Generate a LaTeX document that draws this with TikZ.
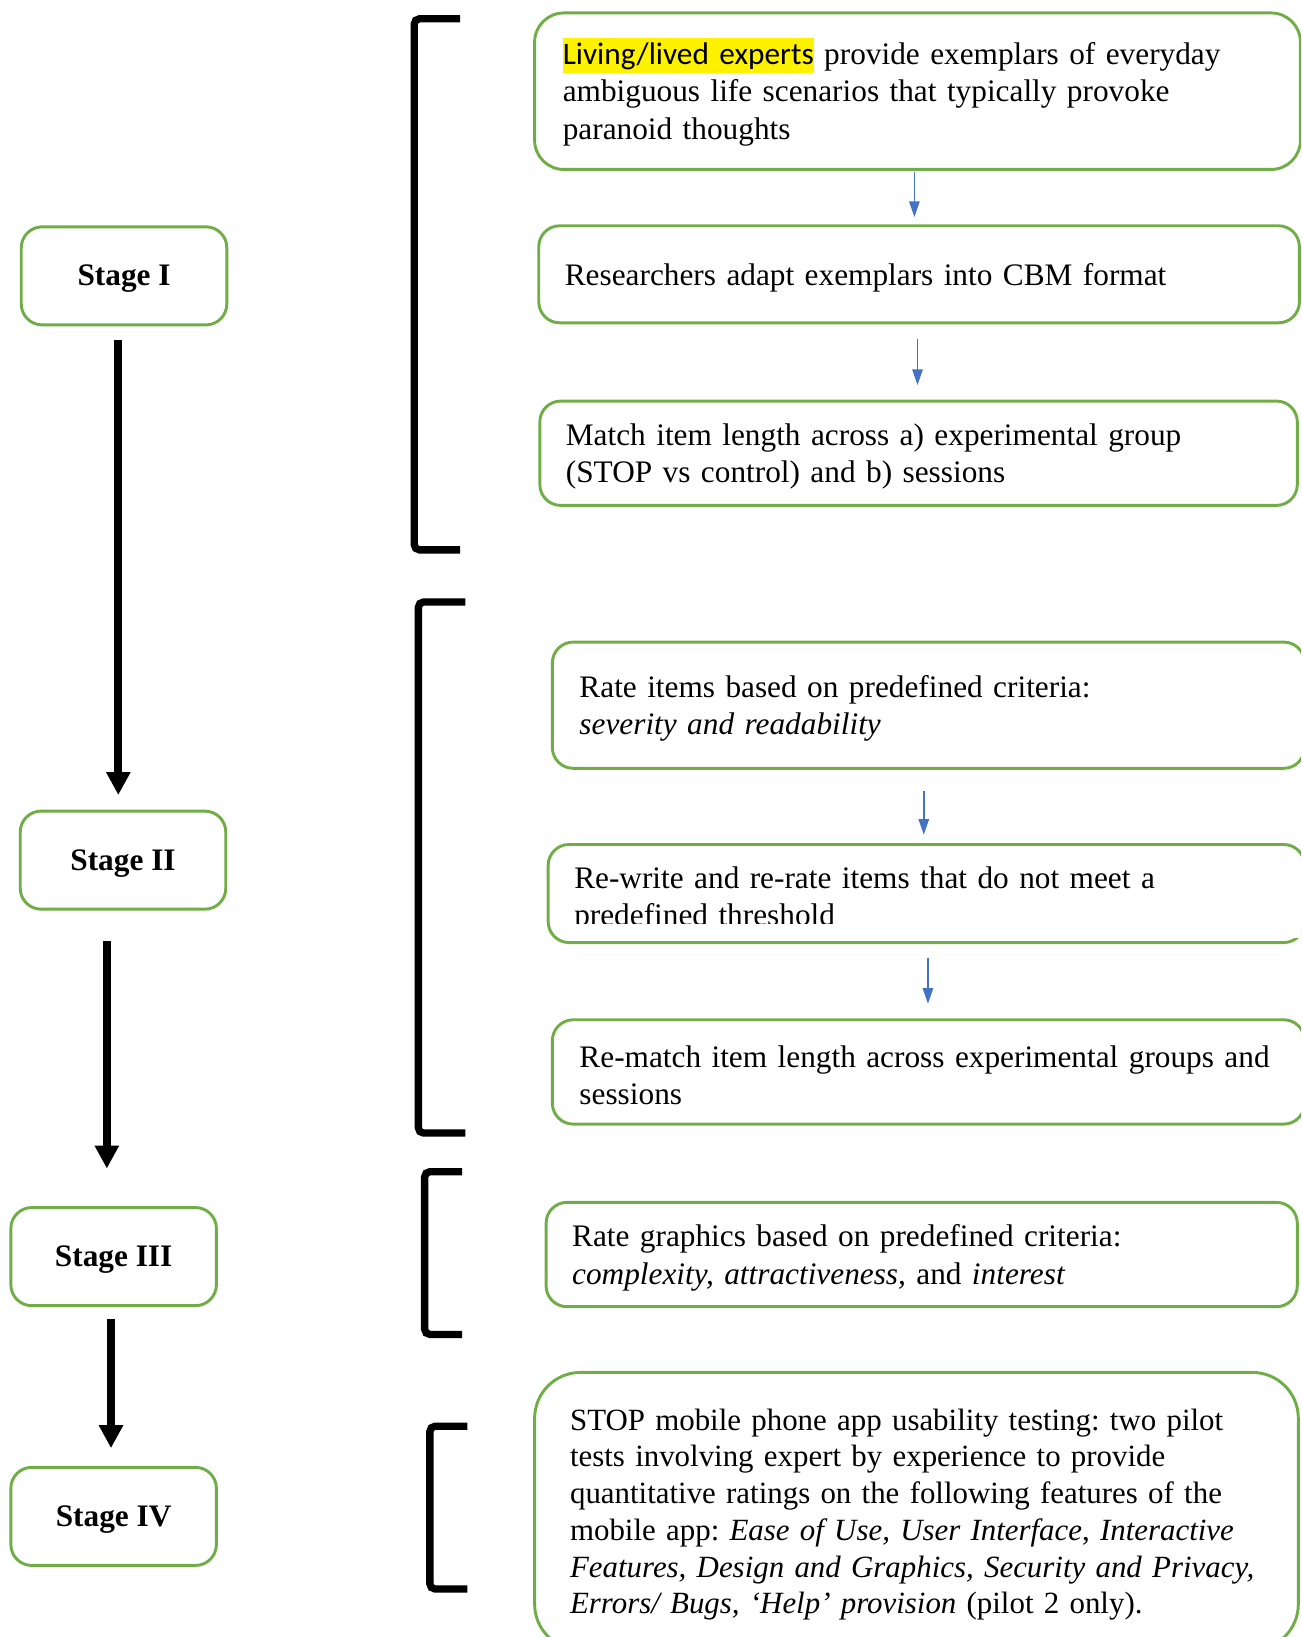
\documentclass[tikz,border=0pt]{standalone}
\usepackage{fontspec}
\setmainfont{Liberation Serif}
\newfontfamily\calibri{Carlito}
\usetikzlibrary{arrows.meta}
\definecolor{stagegreen}{HTML}{70AD47}
\definecolor{flowblue}{HTML}{4472C4}
\setlength{\fboxsep}{0pt}
\frenchspacing

\tikzset{
  stagebox/.style={draw=stagegreen, line width=1.4pt, rounded corners=10pt,
    anchor=north west, minimum width=98.5pt, minimum height=47pt,
    font=\fontsize{15}{18}\selectfont\bfseries, execute at begin node=\rule{0pt}{13pt}},
  stepbox/.style={draw=stagegreen, line width=1.4pt, rounded corners=10pt,
    anchor=north west, align=left, inner xsep=12.5pt,
    font=\fontsize{15}{18}\selectfont, execute at begin node=\rule{0pt}{13.5pt}},
  stagearrow/.style={line width=3.8pt, -{Triangle[width=11pt,length=11pt]}},
  steparrow/.style={flowblue, line width=0.7pt, -{Triangle[width=5pt,length=7.5pt]}},
  bracket/.style={line width=3.5pt, rounded corners=2.5pt},
}

\begin{document}
\begin{tikzpicture}[x=0.5pt, y=-0.5pt]
  \clip (0,0) rectangle (1247,1569);
  % the four stages on the left
  \foreach \n/\pos/\lab in {1/{(19,216)}/I, 2/{(18,776)}/II, 3/{(9,1156)}/III, 4/{(9,1405)}/IV}{
    \node[stagebox] (S-\n) at \pos {Stage \lab};
  }
  \foreach \a/\b/\dx/\s/\e in {1/2/-2.75/6.5/7, 2/3/-7.75/14.5/18, 3/4/-1.25/5.5/8.5}{
    \draw[stagearrow, shorten <=\s pt, shorten >=\e pt]
      ([xshift=\dx pt]S-\a.south) -- ([xshift=\dx pt]S-\a.south |- S-\b.north);
  }
  % brackets: x, top, bottom, end of arms
  \foreach \x/\top/\bot/\arm in {397/18/527/441, 401/577/1086/446, 407/1123/1279/443, 412/1367/1523/448}{
    \draw[bracket] (\arm,\top) -- (\x,\top) -- (\x,\bot) -- (\arm,\bot);
  }
  % stage I
  \node[stepbox, rounded corners=14pt, inner xsep=13.5pt, text width=340pt, minimum height=75pt] (B-1) at (511,11)
    {{\calibri\colorbox{yellow}{\rule[-4pt]{0pt}{16.5pt}Living/lived experts}} provide exemplars of everyday\\
     ambiguous life scenarios that typically provoke\\
     paranoid thoughts};
  \node[stepbox, text width=339.5pt, minimum height=46.5pt] (B-2) at (515,215)
    {Researchers adapt exemplars into CBM format};
  \node[stepbox, text width=338pt, minimum height=50pt] (B-3) at (516,383)
    {Match item length across a) experimental group\\
     (STOP vs control) and b) sessions};
  % stage II
  \node[stepbox, inner xsep=13pt, text width=334.5pt, minimum height=60.5pt] (B-4) at (528,614)
    {Rate items based on predefined criteria:\\
     \textit{severity and readability}};
  \node[stepbox, text width=337.5pt, minimum height=47pt] (B-5) at (524,808)
    {\rule{0pt}{16pt}Re-write and re-rate items that do not meet a\\
     predefined threshold};
  % the second line is cut by the box
  \fill[white] (540,886) rectangle (1247,899.5);
  \node[stepbox, inner xsep=13pt, text width=334.5pt, minimum height=50pt] (B-6) at (528,976)
    {\makebox[335pt][s]{Re-match item length across experimental groups and}\\
     sessions};
  % stage III
  \node[stepbox, text width=335pt, minimum height=50pt] (B-7) at (522,1151)
    {Rate graphics based on predefined criteria:\\
     \textit{complexity, attractiveness,} and \textit{interest}};
  % stage IV
  \node[stepbox, rounded corners=22pt, inner xsep=17pt, text width=332pt, minimum height=133pt,
    font=\fontsize{14.8}{17.6}\selectfont] (B-8) at (511,1314)
    {STOP mobile phone app usability testing: two pilot\\
     tests involving expert by experience to provide\\
     quantitative ratings on the following features of the\\
     mobile app: \textit{Ease of Use, User Interface}, \textit{Interactive}\\
     \mbox{\textit{Features, Design and Graphics, Security and Privacy,}}\\
     \textit{Errors/ Bugs, ‘Help’ provision} (pilot 2 only).};
  \foreach \a/\b/\dx/\s/\e in {1/2/-1.5/0.5/3.5, 2/3/-0.75/7/7, 4/5/-2.25/10/4, 5/6/0.75/6.5/7}{
    \draw[steparrow, shorten <=\s pt, shorten >=\e pt]
      ([xshift=\dx pt]B-\a.south) -- ([xshift=\dx pt]B-\a.south |- B-\b.north);
  }
\end{tikzpicture}
\end{document}
